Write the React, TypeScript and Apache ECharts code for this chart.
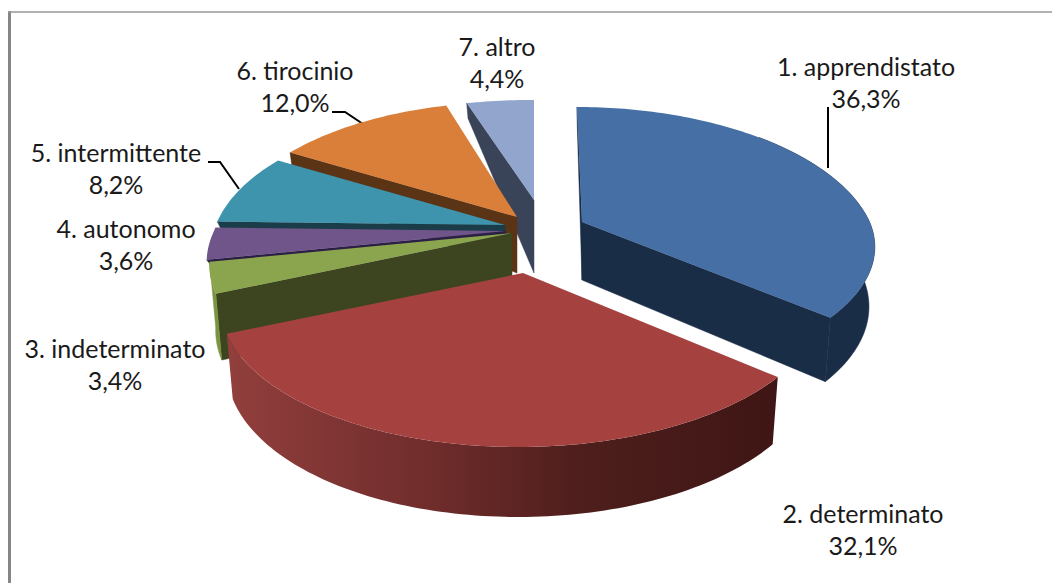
import React, { useEffect, useRef } from "react";
import * as echarts from "echarts";

const categories = ["1. apprendistato", "2. determinato", "3. indeterminato", "4. autonomo", "5. intermittente", "6. tirocinio", "7. altro"];
const shares = [36.3, 32.1, 3.4, 3.6, 8.2, 12.0, 4.4];
const topColors = ["#4670a5", "#a54240", "#8aa54d", "#6f5589", "#3f94ad", "#d97f3a", "#92a6cd"];
const wallColors = ["#1a2d47", "#6a2a29", "#3c451f", "#2d2046", "#1a3d49", "#5b3416", "#3a4459"];
const outerColors = ["#1a2d47", "", "#7a9440", "#2d2046", "#1a3d49", "#5b3416", "#3a4459"];
const paintOrder = [6, 0, 5, 4, 3, 2, 1];

// per-slice placement of the exploded wedges
const apexX = [582, 523, 512, 506, 505, 517, 534];
const apexY = [222, 273, 233, 231, 225, 217, 200];
const apexDepth = [58, 62, 65, 8, 12, 56, 73];
const frontDepth = [67, 70, 68, 8, 12, 60, 60];
const scaleX = [0.975, 1, 1, 0.99, 0.98, 0.98, 1];
const scaleY = [1, 1, 1, 1, 1, 1, 0.87];
const frontScale = [0.92, 1, 1, 1, 1, 1, 1];
const skew = [5, 5, 5, 5, 5, 5, 0];

const labelX = [866, 863, 115, 126, 116, 295, 497];
const labelY = [82, 529, 364, 244, 168, 86, 62];
const leaders = [
  [[828, 107], [828, 168]],
  [[208, 162], [220, 162], [239, 189]],
  [[332, 112], [345, 112], [363, 124]],
];

const RX = 295, RY = 138.5, P = 0.204, TILT = 0.98;
const total = shares.reduce((a, b) => a + b, 0);
const starts: number[] = [];
shares.reduce((acc, v, i) => { starts[i] = acc; return acc + v; }, 0);
const rad = (v: number) => (v / total) * Math.PI * 2;

function topPoint(i: number, t: number): number[] {
  const X = Math.sin(t), Y = Math.cos(t), w = 1 + P * Y;
  const sy = Y < 0 ? scaleY[i] * frontScale[i] : scaleY[i];
  return [apexX[i] + scaleX[i] * ((RX * X) / w) - skew[i] * Math.abs(Y), apexY[i] - (sy * RY * Y) / w];
}
function depth(i: number, Y: number) {
  const back = Math.min(13, apexDepth[i]);
  return Y >= 0 ? apexDepth[i] + (back - apexDepth[i]) * Y : apexDepth[i] + (frontDepth[i] - apexDepth[i]) * -Y;
}
function bottomPoint(i: number, t: number): number[] {
  const p = topPoint(i, t);
  return [apexX[i] + (p[0] - apexX[i]) * TILT, p[1] + depth(i, Math.cos(t))];
}
function arc(i: number, a: number, b: number, f: (i: number, t: number) => number[]) {
  const n = Math.max(2, Math.ceil(Math.abs(b - a) / 0.02));
  const out: number[][] = [];
  for (let k = 0; k <= n; k++) out.push(f(i, a + ((b - a) * k) / n));
  return out;
}

function renderSlice(params: any, api: any) {
  const i = api.value(0);
  const a = rad(starts[i]);
  const b = rad(starts[i] + shares[i]);
  const apex = [apexX[i], apexY[i]];
  const apexLow = [apexX[i], apexY[i] + apexDepth[i]];
  const children: any[] = [];
  const radial = (t: number) => {
    children.push({
      type: "polygon", silent: true,
      shape: { points: [topPoint(i, t), apex, apexLow, bottomPoint(i, t)] },
      style: { fill: wallColors[i], stroke: wallColors[i], lineWidth: 0.5 },
    });
  };
  if (a >= Math.PI || a === 0) radial(a);
  if (b < Math.PI) radial(b);
  // outer rim: only the part that faces the viewer
  const lo = Math.max(a, 0.8);
  const hi = Math.min(b, 4.52);
  if (hi - lo > 0.05) {
    const pts = arc(i, lo, hi, topPoint).concat(arc(i, hi, lo, bottomPoint));
    const style = i === 1
      ? {
          fill: new echarts.graphic.LinearGradient(0, 0, 1, 0, [
            { offset: 0, color: "#923f3d" },
            { offset: 0.4, color: "#6c2b2a" },
            { offset: 0.65, color: "#4d1e1c" },
            { offset: 1, color: "#3f1615" },
          ]),
        }
      : { fill: outerColors[i], stroke: outerColors[i], lineWidth: 0.5 };
    children.push({ type: "polygon", silent: true, shape: { points: pts }, style });
  }
  children.push({
    type: "polygon", silent: true,
    shape: { points: [apex].concat(arc(i, a, b, topPoint)) },
    style: { fill: topColors[i] },
  });
  return { type: "group", children };
}

export default function App() {
  const ref = useRef<HTMLDivElement>(null);
  useEffect(() => {
    const chart = echarts.init(ref.current!, null, { renderer: "svg" });
    const font = '25px Lato, "Noto Sans", sans-serif';
    chart.setOption({
      animation: false,
      backgroundColor: "#ffffff",
      series: [{
        type: "custom",
        coordinateSystem: "none",
        silent: true,
        renderItem: renderSlice,
        data: paintOrder.map((i) => [i, shares[i]]),
        encode: { value: 1 },
      }],
      graphic: [
        { type: "line", silent: true, shape: { x1: 9.5, y1: 11, x2: 9.5, y2: 583 }, style: { stroke: "#868686", lineWidth: 3 } },
        { type: "line", silent: true, shape: { x1: 8, y1: 12, x2: 1052, y2: 12 }, style: { stroke: "#999999", lineWidth: 1.5 } },
        ...leaders.map((pts) => ({
          type: "polyline", silent: true,
          shape: { points: pts },
          style: { stroke: "#000000", lineWidth: 2, fill: "none" },
        })),
        ...categories.map((c, i) => ({
          type: "text", silent: true,
          x: labelX[i], y: labelY[i],
          style: {
            text: c + "\n" + shares[i].toFixed(1).replace(".", ",") + "%",
            font, fill: "#1a1a1a", align: "center", verticalAlign: "middle", lineHeight: 32,
          },
        })),
      ],
    });
    return () => chart.dispose();
  }, []);
  return <div ref={ref} style={{ position: "absolute", left: 0, top: 0, width: 1052, height: 583 }} />;
}
